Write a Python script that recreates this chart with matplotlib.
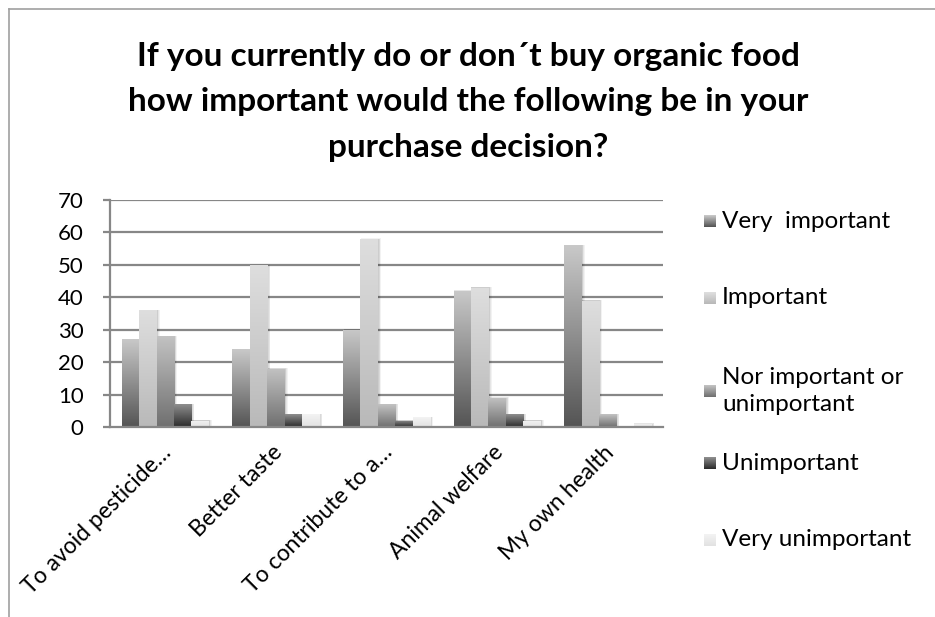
import matplotlib
matplotlib.use('Agg')
import matplotlib.pyplot as plt
import matplotlib.transforms as mtransforms
from matplotlib.patches import Rectangle
from matplotlib.lines import Line2D
from matplotlib.colors import LinearSegmentedColormap
import numpy as np

plt.rcParams['font.family'] = ['Lato', 'DejaVu Sans']

# Survey answers (number of respondents)
categories = ['To avoid pesticide…', 'Better taste', 'To contribute to a…',
              'Animal welfare', 'My own health']
series_names = ['Very  important', 'Important', 'Nor important or\nunimportant',
                'Unimportant', 'Very unimportant']
very_important = [27, 24, 30, 42, 56]
important = [36, 50, 58, 43, 39]
nor_important = [28, 18, 7, 9, 4]
unimportant = [7, 4, 2, 4, 0]
very_unimportant = [2, 4, 3, 2, 1]
series = [very_important, important, nor_important, unimportant, very_unimportant]

title = 'If you currently do or don´t buy organic food\nhow important would the following be in your\npurchase decision?'

# gradient colours for each series (bottom, top)
grads = [('#555555', '#c8c8c8'),
         ('#b9b9b9', '#dedede'),
         ('#707070', '#c2c2c2'),
         ('#2c2c2c', '#8e8e8e'),
         ('#e2e2e2', '#f3f3f3')]

fig = plt.figure(figsize=(9.35, 6.17), dpi=100)
ax = fig.add_axes([110/935, 1-427/617, 553/935, 227/617])

n = len(series)
width = 0.157
x = np.arange(len(categories))
grid_col = '#878787'

ax.set_xlim(-0.5, len(categories) - 0.5)
ax.set_ylim(0, 70)
ax.set_yticks(range(0, 71, 10))
for yv in range(10, 71, 10):
    ax.axhline(yv, color=grid_col, lw=1.6, zorder=0)

for i, vals in enumerate(series):
    cmap = LinearSegmentedColormap.from_list('g%d' % i, [grads[i][0], grads[i][1]])
    offs = (i - (n - 1) / 2) * width
    for xi, v in zip(x, vals):
        if v <= 0:
            continue
        x0 = xi + offs - width / 2
        # soft drop shadow
        for k in range(4):
            pad = 0.006 * (k + 1)
            sh = Rectangle((x0 + 0.004, -0.3), width + pad, v + 0.3 + pad * 6,
                           facecolor='black', edgecolor='none', alpha=0.05, zorder=1)
            ax.add_patch(sh)
        rect = Rectangle((x0, 0), width, v, facecolor='none', edgecolor='none', zorder=2)
        ax.add_patch(rect)
        im = ax.imshow(np.linspace(1, 0, 64).reshape(-1, 1), cmap=cmap, aspect='auto',
                       extent=(x0, x0 + width, 0, v), zorder=2, interpolation='bilinear')
        im.set_clip_path(rect)

ax.set_xlim(-0.5, len(categories) - 0.5)
ax.set_ylim(0, 70)

for s in ['top', 'right']:
    ax.spines[s].set_visible(False)
for s in ['left', 'bottom']:
    ax.spines[s].set_color(grid_col)
    ax.spines[s].set_linewidth(1.6)
    ax.spines[s].set_zorder(3)

ax.tick_params(axis='y', length=5, width=1.6, color=grid_col, labelsize=16, pad=14)
ax.tick_params(axis='x', length=0)
ax.set_xticks(x)
ax.set_xticklabels([])

off = mtransforms.ScaledTranslation(0.03, -0.22, fig.dpi_scale_trans)
for xi, lab in zip(x, categories):
    ax.text(xi, 0, lab, rotation=45, ha='right', va='center', rotation_mode='anchor',
            fontsize=16.5, transform=ax.transData + off)

fig.text(468/935, 1-102/617, title, ha='center', va='center', fontsize=24,
         fontweight='bold', linespacing=1.68)

# legend on the right
leg_y = [221, 298, 391, 463, 540]
for i, (name, yc) in enumerate(zip(series_names, leg_y)):
    cmap = LinearSegmentedColormap.from_list('l%d' % i, [grads[i][0], grads[i][1]])
    lax = fig.add_axes([704/935, 1-(yc+6)/617, 12/935, 12/617])
    lax.imshow(np.linspace(1, 0, 16).reshape(-1, 1), cmap=cmap, aspect='auto')
    lax.axis('off')
    fig.text(722/935, 1-yc/617, name, ha='left', va='center', fontsize=17.5,
             linespacing=1.3)

# chart frame
fig.add_artist(Line2D([9/935, 9/935], [0, 1-9/617], color='#a0a0a0', lw=1.2))
fig.add_artist(Line2D([9/935, 1], [1-9/617, 1-9/617], color='#a0a0a0', lw=1.2))

fig.savefig('out.png', dpi=100)
